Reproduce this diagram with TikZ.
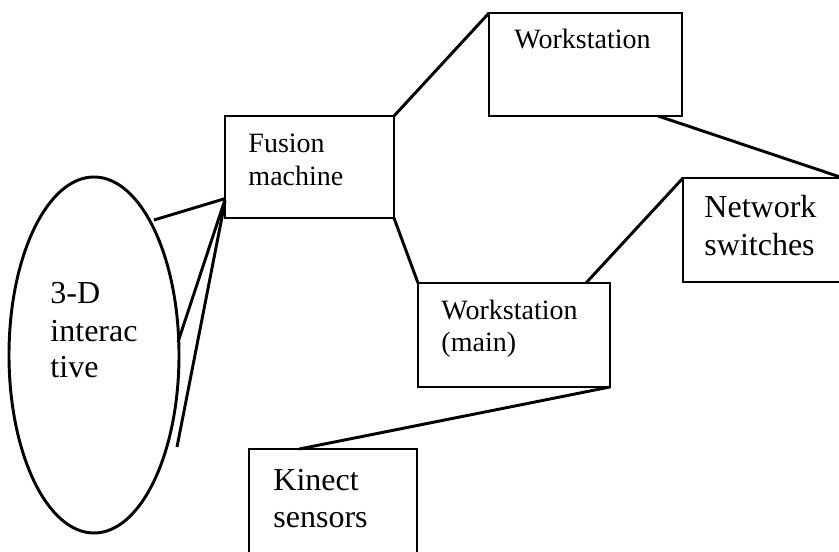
\documentclass[tikz,border=0pt]{standalone}
\usepackage{fontspec}
\setmainfont{Liberation Serif}
\usetikzlibrary{shapes.geometric,calc}
\begin{document}
\begin{tikzpicture}[x=0.75pt,y=-0.75pt,line width=2.2pt,
  box/.style={draw,rectangle,anchor=north west,inner sep=0pt,outer sep=0pt},
  lbl/.style={anchor=base west,inner sep=0pt,align=left},
  small/.style={font=\fontsize{21}{25}\selectfont},
  big/.style={font=\fontsize{24}{28}\selectfont}]
\clip (0,0) rectangle (839,552);
\fill[white] (0,0) rectangle (839,552);
% boxes
\node[box,minimum width=126.75pt,minimum height=76.5pt] (fus) at (225,116) {};
\node[box,minimum width=144.75pt,minimum height=77.25pt] (ws) at (489,13) {};
\node[box,minimum width=120pt,minimum height=78pt] (net) at (683,178) {};
\node[box,minimum width=144pt,minimum height=78pt] (wmain) at (418,283) {};
\node[box,minimum width=126pt,minimum height=82.5pt] (kin) at (249,449) {};
\node[draw,ellipse,inner sep=0pt,outer sep=0pt,minimum width=127.5pt,minimum height=267pt] (ell) at (94,355) {};
% labels
\node[lbl,small] (tfus1) at (247,153) {Fusion};
\node[lbl,small] (tfus2) at (247,186) {machine};
\node[lbl,small] (tws) at (513,49) {Workstation};
\node[lbl,small] (tmain1) at (440,320) {Workstation};
\node[lbl,small] (tmain2) at (440,352) {(main)};
\node[lbl,big] (tnet1) at (703,218) {Network};
\node[lbl,big] (tnet2) at (703,256) {switches};
\node[lbl,big] (tkin1) at (272,490) {Kinect};
\node[lbl,big] (tkin2) at (272,527) {sensors};
\node[lbl,big] (tell1) at (49,304) {3-D};
\node[lbl,big] (tell2) at (49,341) {interac};
\node[lbl,big] (tell3) at (49,378) {tive};
% free ends
\coordinate (e1) at (154,220);
\coordinate (e2) at (178,342);
\coordinate (e3) at (177,447);
% connectors
\draw (fus.north east) -- (ws.north west);
\draw (fus.south east) -- (wmain.north west);
\draw ($(ws.south west)!0.876!(ws.south east)$) -- (net.north east);
\draw (net.north west) -- ($(wmain.north west)!0.875!(wmain.north east)$);
\draw (wmain.south east) -- ($(kin.north west)!0.3!(kin.north east)$);
\draw (e1) -- ($(fus.north west)!0.81!(fus.south west)$);
\draw (e2) -- ($(fus.north west)!0.82!(fus.south west)$);
\draw (e3) -- ($(fus.north west)!0.84!(fus.south west)$);
\end{tikzpicture}
\end{document}
